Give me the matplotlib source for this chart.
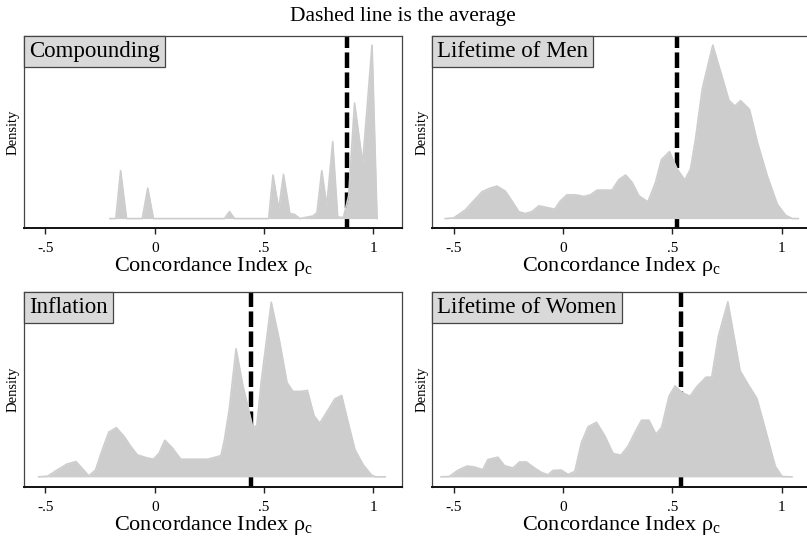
import matplotlib
matplotlib.use("Agg")
import matplotlib.pyplot as plt

plt.rcParams['font.family'] = ['Liberation Serif', 'DejaVu Serif']
plt.rcParams['mathtext.fontset'] = 'custom'
plt.rcParams['mathtext.rm'] = 'Liberation Serif'
plt.rcParams['mathtext.it'] = 'Liberation Serif:italic'

# ---- data ----
titles = ["Compounding", "Lifetime of Men", "Inflation", "Lifetime of Women"]
means = [0.878, 0.521, 0.44, 0.541]
tick_vals = [-0.5, 0, 0.5, 1]
tick_labels = ["-.5", "0", ".5", "1"]

comp_x = [-0.205, -0.178, -0.156, -0.129, -0.057, -0.032, -0.006, 0.319, 0.342, 0.365,
          0.521, 0.541, 0.567, 0.589, 0.618, 0.638, 0.664, 0.702, 0.725, 0.742,
          0.764, 0.787, 0.814, 0.837, 0.863, 0.887, 0.914, 0.951, 0.994, 1.017]
comp_y = [0, 0, 1.43, 0, 0, 0.91, 0, 0, 0.21, 0,
          0, 1.30, 0.28, 1.32, 0.15, 0.13, 0, 0.05, 0.08, 0.18,
          1.43, 0.38, 2.30, 0.05, 0.03, 0.68, 3.45, 1.65, 5.18, 0]

men_x = [-0.539, -0.5, -0.447, -0.409, -0.371, -0.333, -0.302, -0.264, -0.234, -0.203,
         -0.173, -0.142, -0.111, -0.073, -0.038, -0.012, 0.018, 0.056, 0.095, 0.125,
         0.156, 0.224, 0.255, 0.286, 0.316, 0.347, 0.388, 0.423, 0.450, 0.487,
         0.522, 0.557, 0.583, 0.606, 0.637, 0.685, 0.721, 0.759, 0.786, 0.812,
         0.853, 0.889, 0.934, 0.980, 1.018, 1.049, 1.076]
men_y = [0, 0.02, 0.26, 0.53, 0.80, 0.91, 0.97, 0.82, 0.53, 0.21,
         0.15, 0.21, 0.38, 0.33, 0.28, 0.53, 0.71, 0.71, 0.66, 0.71,
         0.85, 0.85, 1.16, 1.30, 1.08, 0.68, 0.50, 1.08, 1.76, 2.00,
         1.48, 1.15, 1.48, 2.38, 3.88, 5.18, 4.38, 3.53, 3.36, 3.52,
         3.26, 2.28, 1.28, 0.43, 0.10, 0, 0]

infl_x = [-0.531, -0.49, -0.447, -0.401, -0.360, -0.332, -0.302, -0.271, -0.240, -0.210,
          -0.176, -0.141, -0.110, -0.080, -0.041, -0.006, 0.020, 0.046, 0.081, 0.119,
          0.242, 0.273, 0.303, 0.319, 0.341, 0.372, 0.403, 0.449, 0.467, 0.487,
          0.533, 0.571, 0.605, 0.632, 0.671, 0.698, 0.729, 0.755, 0.786, 0.824,
          0.855, 0.885, 0.916, 0.954, 0.992, 1.01, 1.054]
infl_y = [0, 0.02, 0.20, 0.38, 0.45, 0.25, 0.03, 0.20, 0.80, 1.32,
          1.45, 1.20, 0.90, 0.65, 0.57, 0.52, 0.70, 1.08, 0.85, 0.52,
          0.52, 0.57, 0.63, 1.10, 2.00, 3.78, 2.70, 1.45, 1.52, 2.80,
          5.15, 4.00, 2.78, 2.52, 2.52, 2.55, 1.80, 1.58, 1.90, 2.30,
          2.40, 1.60, 0.80, 0.35, 0.05, 0, 0]

wom_x = [-0.558, -0.520, -0.482, -0.439, -0.405, -0.367, -0.344, -0.298, -0.268, -0.229,
         -0.199, -0.168, -0.130, -0.099, -0.069, -0.046, -0.008, 0.023, 0.054, 0.084,
         0.115, 0.153, 0.191, 0.229, 0.265, 0.298, 0.329, 0.359, 0.393, 0.425,
         0.451, 0.485, 0.512, 0.546, 0.581, 0.612, 0.654, 0.680, 0.711, 0.754,
         0.810, 0.846, 0.887, 0.925, 0.971, 1.002, 1.047]
wom_y = [0, 0.01, 0.19, 0.32, 0.29, 0.21, 0.51, 0.58, 0.33, 0.26,
         0.44, 0.44, 0.26, 0.13, 0.06, 0.19, 0.20, 0.07, 0.16, 1.01,
         1.48, 1.61, 1.21, 0.69, 0.64, 0.91, 1.31, 1.67, 1.67, 1.26,
         1.46, 2.38, 2.68, 2.48, 2.38, 2.66, 2.94, 2.94, 4.16, 5.16,
         3.13, 2.73, 2.31, 1.41, 0.31, 0.01, 0]

series = [(comp_x, comp_y), (men_x, men_y), (infl_x, infl_y), (wom_x, wom_y)]

# ---- layout ----
W, H = 807, 540
fig = plt.figure(figsize=(W / 100, H / 100), dpi=100)

def frac(left, top, right, bottom):
    return [left / W, 1 - bottom / H, (right - left) / W, (bottom - top) / H]

rects = [frac(24, 35.7, 402, 228.3), frac(432.3, 35.7, 810.3, 228.3),
         frac(24, 291.7, 402, 486.7), frac(432.3, 291.7, 810.3, 486.7)]

fill_col = '#cdcdcd'
for rect, title, (xs, ys), m in zip(rects, titles, series, means):
    ax = fig.add_axes(rect)
    ax.axvline(m, color='black', lw=3.2, ls=(0, (3.5, 1.0)), zorder=1.5)
    ax.fill_between(xs, 0, ys, color=fill_col, lw=0, zorder=2)
    ax.plot(xs, ys, color=fill_col, lw=1.2, zorder=2.1)
    ax.set_xlim(-0.598, 1.131)
    ax.set_ylim(-0.29, 5.46)
    ax.set_yticks([])
    ax.set_xticks(tick_vals)
    ax.set_xticklabels(tick_labels, fontsize=11)
    ax.tick_params(axis='x', length=4, width=1, pad=6, color='#222222')
    for s in ['top', 'left', 'right']:
        ax.spines[s].set_linewidth(0.9)
        ax.spines[s].set_color('#444444')
    ax.spines['bottom'].set_linewidth(1.4)
    ax.spines['bottom'].set_color('#111111')
    ax.set_ylabel('Density', fontsize=10.5, labelpad=3)
    ax.set_xlabel(r'Concordance Index $\mathrm{\rho}_{\mathrm{c}}$', fontsize=16, labelpad=0)
    pad = 0.22
    fs = 16.5
    ax.annotate(title, xy=(0, 1), xycoords='axes fraction',
                xytext=(pad * fs, -pad * fs), textcoords='offset points',
                ha='left', va='top', fontsize=fs, zorder=5,
                bbox=dict(boxstyle='square,pad=%g' % pad, fc='#d9d9d9', ec='#444444', lw=0.9))

fig.text(403 / W, 1 - 16 / H, 'Dashed line is the average', ha='center', va='center', fontsize=15.5)

fig.savefig('out.png', dpi=100)
